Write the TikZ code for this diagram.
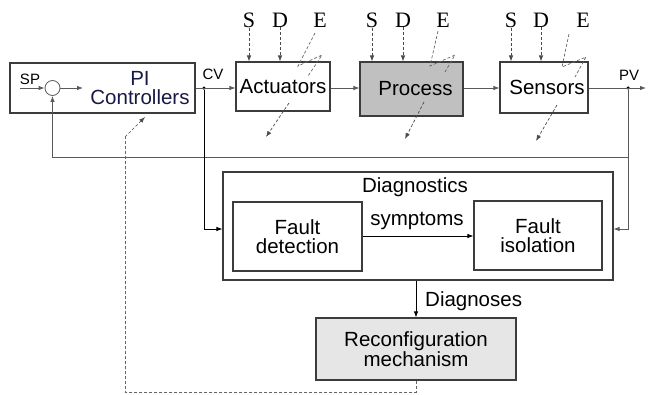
\documentclass[tikz,border=0pt]{standalone}
\usepackage{fontspec}
\setmainfont{Liberation Sans}
\newfontfamily\serifletters{Liberation Serif}
\usetikzlibrary{arrows.meta}
\definecolor{boxline}{RGB}{60,60,60}
\definecolor{sigline}{RGB}{90,90,90}
\definecolor{procfill}{RGB}{192,192,192}
\definecolor{recfill}{RGB}{230,230,230}
\definecolor{pinavy}{RGB}{25,25,70}
\tikzset{
  blockbox/.style={draw=boxline, line width=1.1pt, inner sep=0pt},
  blocktext/.style={font=\fontsize{20.5}{19}\selectfont, align=center, inner sep=0pt},
  smalltext/.style={font=\fontsize{15}{15}\selectfont, inner sep=0pt},
  sdetext/.style={font=\serifletters\fontsize{22}{22}\selectfont, inner sep=0pt},
  sig/.style={draw=sigline, line width=0.8pt, -{Latex[length=6pt,width=4.5pt]}},
  wire/.style={draw=black, line width=0.8pt},
  faultin/.style={draw=black!70, line width=0.7pt, densely dashed, -{Latex[length=6pt,width=4.5pt]}},
  faultbolt/.style={draw=black!60, line width=0.7pt, densely dashed},
  junction/.style={circle, fill=black, inner sep=0pt, minimum size=3.5pt},
}
\begin{document}
\begin{tikzpicture}[x=1pt,y=-1pt]
\useasboundingbox (0,0) rectangle (651,394);

% ---- main loop blocks
\node[blockbox, minimum width=185pt, minimum height=50pt] (pi) at (102.5,88) {};
\node[blocktext, text=pinavy] (pitext) at (140,88) {PI\\Controllers};
\node[draw=sigline, line width=0.8pt, circle, minimum size=15pt, inner sep=0pt] (sum) at (52.5,88) {};
\coordinate (spin) at (20,88);
\coordinate (sumout) at (83,88);
\node[smalltext] (sp) at (30,79) {SP};

\node[blockbox, minimum width=94pt, minimum height=49pt, blocktext] (act) at (283,86.5) {Actuators};
\node[blockbox, fill=procfill, minimum width=103pt, minimum height=54pt, blocktext] (proc) at (411.5,89) {\hspace{8pt}Process};
\node[blockbox, minimum width=88pt, minimum height=51pt, blocktext] (sens) at (544,87.5) {\hspace{6pt}Sensors};

\node[smalltext] (cv) at (213,74) {CV};
\node[smalltext] (pv) at (629,75) {PV};
\node[junction] (cvdot) at (204,88) {};
\node[junction] (pvdot) at (628,88) {};
\coordinate (pvout) at (646,88);

% ---- diagnostic blocks
\node[blockbox, minimum width=390pt, minimum height=108pt] (diag) at (418,226) {};
\node[blocktext] (diagtext) at (415,187) {Diagnostics};
\node[blockbox, minimum width=129pt, minimum height=69pt, blocktext] (fd) at (297.5,236.5) {Fault\\detection};
\node[blockbox, minimum width=128pt, minimum height=69pt, blocktext] (fi) at (538,235.5) {Fault\\isolation};
\node[blocktext] (symp) at (417,221) {symptoms};
\node[blockbox, fill=recfill, minimum width=200pt, minimum height=62pt, blocktext] (rec) at (416,349) {Reconfiguration\\mechanism};
\node[blocktext, anchor=west] (diagn) at (425,301) {Diagnoses};

% ---- signal connections
\draw[sig] (spin) -- (sum.west);
\draw[sig] (sum.east) -- (sumout);
\draw[sig] (pi.east |- cvdot) -- (act.west |- cvdot);
\draw[sig] (act.east |- cvdot) -- (proc.west |- cvdot);
\draw[sig] (proc.east |- cvdot) -- (sens.west |- cvdot);
\draw[sig] (sens.east |- pvdot) -- (pvout);
\coordinate (fbr) at (628,157);
\coordinate (fbl) at (52.5,157);
\draw[sig] (pvdot) -- (fbr) -- (fbl) -- (sum.south);
\coordinate (pvdown) at (628,229);
\coordinate (cvdown) at (204,229);
\draw[sig] (fbr) -- (pvdown) -- (diag.east |- pvdown);
\draw[wire, -{Latex[length=6pt,width=4.5pt]}] (cvdot) -- (cvdown) -- (diag.west |- cvdown);
\draw[wire, -{Latex[length=6pt,width=4.5pt]}] (fd.east |- 0,236) -- (fi.west |- 0,236);
\draw[wire, -{Latex[length=6pt,width=4.5pt]}] (diag.south -| rec.north) -- (rec.north);

% ---- sensor, disturbance and error inputs
\foreach \blk/\sx/\dx/\ex in {act/249/280/320, proc/372/403/443, sens/511/541/583}{
  \node[sdetext] (\blk S) at (\sx,20) {S};
  \node[sdetext] (\blk D) at (\dx,20) {D};
  \node[sdetext] (\blk E) at (\ex,20) {E};
  \draw[faultin] (\blk S.south) -- (\blk S.south |- \blk.north);
  \draw[faultin] (\blk D.south) -- (\blk D.south |- \blk.north);
}
% fault bolts crossing each block
\draw[faultbolt] (315,33) -- (298,66) -- (322,55) -- (308,76);
\draw[faultin] (289,103) -- (266,137);
\draw[faultbolt] (438,31) -- (430,66) -- (455,55) -- (445,72);
\draw[faultin] (424,102) -- (405,139);
\draw[faultbolt] (569,34) -- (562,67) -- (586,57) -- (575,77);
\draw[faultin] (557,105) -- (536,141);

% ---- reconfiguration path back to the controllers
\coordinate (rb) at (416,392);
\coordinate (lb) at (125,392);
\coordinate (lt) at (125,137);
\coordinate (pitip) at (145,117);
\draw[faultbolt] (rec.south) -- (rb) -- (lb) -- (lt);
\draw[faultin] (lt) -- (pitip);
\end{tikzpicture}
\end{document}
